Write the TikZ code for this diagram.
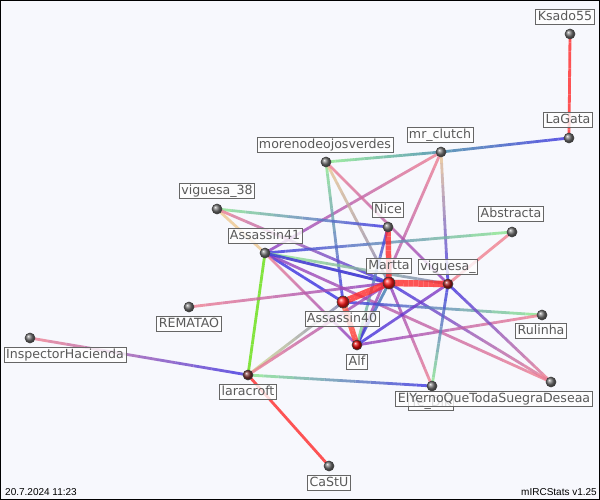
\documentclass[tikz,border=0pt]{standalone}
\usepackage{fontspec}
\usetikzlibrary{calc}
\newfontfamily\dejavu{DejaVu Sans}
\newfontfamily\footfont{Liberation Sans}
\definecolor{cred}{HTML}{FF2A2A}
\definecolor{cblue}{HTML}{3A30E0}
\definecolor{csteel}{HTML}{3F88A8}
\definecolor{cgreen}{HTML}{8CEB8C}
\definecolor{cpink}{HTML}{F08090}
\definecolor{cpurple}{HTML}{8A3CC0}
\definecolor{ctan}{HTML}{EEC890}
\definecolor{cslate}{HTML}{8080B0}
\definecolor{clime}{HTML}{66E010}
\definecolor{csalmon}{HTML}{FF7050}
\definecolor{cyel}{HTML}{D8E090}
\definecolor{bg}{HTML}{F7F8FD}
\newcommand\edg[5]{%
  \foreach \i in {0,...,11}{%
    \pgfmathsetmacro\pa{\i/12}%
    \pgfmathsetmacro\pb{(\i+1)/12}%
    \pgfmathtruncatemacro\pc{100-100*(\i+0.5)/12}%
    \draw[line width=#5, draw opacity=0.8, color=#3!\pc!#4] ($(#1)!\pa!(#2)$) -- ($(#1)!\pb!(#2)$);
  }}
\tikzset{
  ball/.style={circle, inner sep=0pt, minimum size=10pt, shading=ball, ball color=#1, draw=black!75, line width=0.6pt},
  bigball/.style={ball=#1, minimum size=12pt},
  lbl/.style={draw=black!60, line width=0.8pt, fill=white, fill opacity=0.8, text opacity=1, text=black!65,
    font=\dejavu\fontsize{12.6}{13}\selectfont, inner xsep=2pt, inner ysep=1.3pt, text height=9.6pt, text depth=2.8pt},
  foot/.style={font=\footfont\fontsize{10}{11}\selectfont, text=black, inner sep=0pt}
}
\begin{document}
\begin{tikzpicture}[x=1pt,y=-1pt]
\useasboundingbox (0,0) rectangle (600,500);
\fill[bg] (0,0) rectangle (600,500);
% node positions
\coordinate (Ksado) at (570,34);
\coordinate (LaGata) at (569,138);
\coordinate (mrc) at (441,152);
\coordinate (moreno) at (326,162);
\coordinate (v38) at (217,209);
\coordinate (Nice) at (388,227);
\coordinate (Abs) at (512,232);
\coordinate (A41) at (265,253);
\coordinate (Martta) at (389,283);
\coordinate (vig) at (448,284);
\coordinate (A40) at (343,302);
\coordinate (REM) at (189,307);
\coordinate (Rul) at (542,315);
\coordinate (Insp) at (30,338);
\coordinate (Alf) at (357,345);
\coordinate (lara) at (248,375);
\coordinate (Ye) at (432,386);
\coordinate (ElY) at (551,382);
\coordinate (CaStU) at (329,466);
% edges
\edg{Ksado}{LaGata}{cred}{cred}{2.8}
\edg{LaGata}{mrc}{cblue}{csteel}{2.8}
\edg{mrc}{moreno}{csteel}{cgreen}{2.8}
\edg{mrc}{A41}{cpink}{cpurple}{2.8}
\edg{mrc}{Alf}{cpink}{cpurple}{2.8}
\edg{mrc}{vig}{ctan}{cblue}{2.8}
\edg{moreno}{A40}{cgreen}{cblue}{2.8}
\edg{moreno}{Martta}{ctan}{cslate}{2.8}
\edg{moreno}{vig}{cpink}{cpurple}{2.8}
\edg{v38}{Nice}{cgreen}{cblue}{2.8}
\edg{v38}{A41}{ctan}{ctan}{2.8}
\edg{v38}{Martta}{cpink}{cblue}{2.8}
\edg{Abs}{A41}{cgreen}{cblue}{2.8}
\edg{Abs}{vig}{cpink}{cpink}{2.8}
\edg{A41}{lara}{clime}{clime}{2.8}
\edg{A41}{Martta}{cyel}{cslate}{2.8}
\edg{A41}{A40}{cblue}{cblue}{2.8}
\edg{A41}{Alf}{cpink}{cpurple}{2.8}
\edg{A41}{ElY}{cpurple}{cpink}{2.8}
\edg{A41}{vig}{cgreen}{cslate}{2.8}
\edg{Martta}{A41}{cblue}{cblue}{2.8}
\edg{Martta}{Alf}{csteel}{cblue}{2.8}
\edg{Nice}{Alf}{cblue}{cgreen}{2.8}
\edg{REM}{Martta}{cpink}{cpurple}{2.8}
\edg{Martta}{Ye}{cpurple}{cpink}{2.8}
\edg{Martta}{ElY}{cblue}{cpink}{2.8}
\edg{A40}{Rul}{cblue}{cgreen}{2.8}
\edg{Alf}{Rul}{cpurple}{cpink}{2.8}
\edg{Alf}{vig}{cblue}{cpurple}{2.8}
\edg{lara}{A40}{cyel}{cslate}{2.8}
\edg{lara}{Martta}{cpink}{cpurple}{2.8}
\edg{lara}{Insp}{cblue}{cpink}{2.8}
\edg{lara}{CaStU}{cred}{cred}{2.8}
\edg{lara}{Ye}{cgreen}{cblue}{2.8}
\edg{vig}{Ye}{cblue}{cgreen}{2.8}
\edg{vig}{ElY}{cblue}{cpink}{2.8}
\edg{Nice}{Martta}{cred}{cred}{5.5}
\edg{Martta}{vig}{cred}{cred}{6.5}
\edg{Martta}{A40}{cred}{cred}{6.5}
\edg{A40}{Alf}{csalmon}{cred}{5.5}
% balls
\node[ball=black!55] (nKsado) at (Ksado) {};
\node[ball=black!55] (nLaGata) at (LaGata) {};
\node[ball=black!55] (nmrc) at (mrc) {};
\node[ball=black!55] (nmoreno) at (moreno) {};
\node[ball=black!55] (nv38) at (v38) {};
\node[ball=black!55] (nNice) at (Nice) {};
\node[ball=black!55] (nAbs) at (Abs) {};
\node[ball=black!55] (nA41) at (A41) {};
\node[bigball=red!90!white] (nMartta) at (Martta) {};
\node[ball=red!60!black!90] (nvig) at (vig) {};
\node[bigball=red!90!white] (nA40) at (A40) {};
\node[ball=black!55] (nREM) at (REM) {};
\node[ball=black!55] (nRul) at (Rul) {};
\node[ball=black!55] (nInsp) at (Insp) {};
\node[ball=red!85!black] (nAlf) at (Alf) {};
\node[ball=red!35!black!80] (nlara) at (lara) {};
\node[ball=black!55] (nYe) at (Ye) {};
\node[ball=black!55] (nElY) at (ElY) {};
\node[ball=black!55] (nCaStU) at (CaStU) {};
% labels
\node[lbl] (lKsado) at (565,17) {Ksado55};
\node[lbl] (lLaGata) at (568,120) {LaGata};
\node[lbl] (lmrc) at (440,135) {mr\_clutch};
\node[lbl] (lmoreno) at (325,145) {morenodeojosverdes};
\node[lbl] (lv38) at (217,191) {viguesa\_38};
\node[lbl] (lNice) at (388,210) {Nice};
\node[lbl] (lAbs) at (511,214) {Abstracta};
\node[lbl] (lA41) at (265,236) {Assassin41};
\node[lbl] (lMartta) at (389,266) {Martta};
\node[lbl] (lvig) at (448,267) {viguesa\_};
\node[lbl] (lA40) at (342,319) {Assassin40};
\node[lbl] (lREM) at (189,324) {REMATAO};
\node[lbl] (lRul) at (541,331) {Rulinha};
\node[lbl] (lInsp) at (65,355) {InspectorHacienda};
\node[lbl] (lAlf) at (357,362) {Alf};
\node[lbl] (llara) at (248,392) {laracroft};
\node[lbl] (lYe) at (431,403) {Ye\_Dik};
\node[lbl] (lElY) at (494,399) {ElYernoQueTodaSuegraDeseaa};
\node[lbl] (lCaStU) at (329,483) {CaStU};
% footer
\node[foot, anchor=south west] (date) at (5,496) {20.7.2024 11:23};
\node[foot, anchor=south east] (ver) at (597,496) {mIRCStats v1.25};
\draw[black, line width=1pt] (0.5,0.5) rectangle (599.5,499.5);
\end{tikzpicture}
\end{document}
